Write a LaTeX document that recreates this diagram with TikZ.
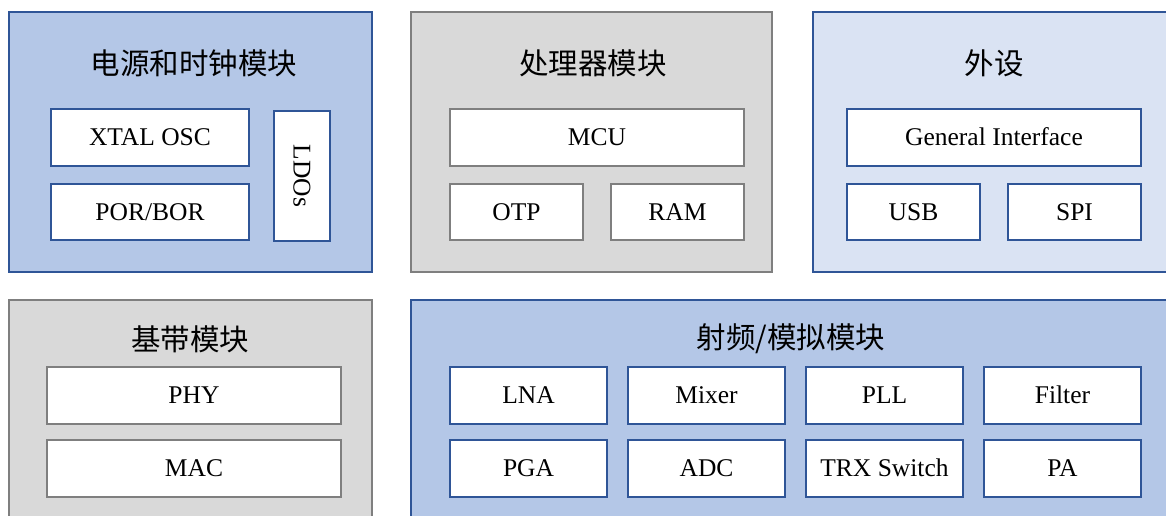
\documentclass[tikz,border=0pt]{standalone}
\usepackage{fontspec}
\setmainfont{Liberation Serif}
\newfontfamily\cjk{Noto Sans CJK SC}
\definecolor{blueFill}{HTML}{B4C7E7}
\definecolor{lightFill}{HTML}{DAE3F3}
\definecolor{grayFill}{HTML}{D9D9D9}
\definecolor{blueLine}{HTML}{2F5597}
\definecolor{grayLine}{HTML}{7F7F7F}
\tikzset{
  x=1pt, y=-1pt,
  block/.style={line width=1.8pt, inner sep=0pt},
  blueblock/.style={block, draw=blueLine, fill=blueFill},
  lightblock/.style={block, draw=blueLine, fill=lightFill},
  grayblock/.style={block, draw=grayLine, fill=grayFill},
  title/.style={font=\cjk\fontsize{29.5}{34}\selectfont, inner sep=0pt},
  cell/.style={draw, fill=white, line width=1.8pt, inner sep=0pt, minimum height=57pt,
    text height=17pt, text depth=1pt, font=\fontsize{25.5}{29}\selectfont},
  bcell/.style={cell, draw=blueLine},
  gcell/.style={cell, draw=grayLine}
}
\begin{document}
\begin{tikzpicture}
\useasboundingbox (0,0) rectangle (1166,515);
\clip (0,0) rectangle (1166,515);
\fill[white] (0,0) rectangle (1166,515);
% outer blocks
\draw[blueblock] (9,12) rectangle (372,272);
\draw[grayblock] (411,12) rectangle (772,272);
\draw[lightblock] (813,12) rectangle (1174,272);
\draw[grayblock] (9,300) rectangle (372,540);
\draw[blueblock] (411,300) rectangle (1174,540);
% titles
\node[title] (t1) at (194,63) {电源和时钟模块};
\node[title] (t2) at (593,63) {处理器模块};
\node[title] (t3) at (994,63) {外设};
\node[title] (t4) at (190,339) {基带模块};
\node[title] (t5) at (791,339) {射频/模拟模块};
% power block
\node[bcell, minimum width=198pt] (xtal) at (150,137.5) {XTAL OSC};
\node[bcell, minimum width=198pt, minimum height=56pt] (por) at (150,212) {POR/BOR};
\node[bcell, minimum width=56pt, minimum height=130pt, text height=, text depth=] (ldo) at (302,176) {\rotatebox{-90}{LDOs}};
% processor block
\node[gcell, minimum width=294pt] (mcu) at (597,137.5) {MCU};
\node[gcell, minimum width=133pt, minimum height=56pt] (otp) at (516.5,212) {OTP};
\node[gcell, minimum width=133pt, minimum height=56pt] (ram) at (677.5,212) {RAM};
% peripheral
\node[bcell, minimum width=294pt] (gif) at (994,137.5) {General Interface};
\node[bcell, minimum width=133pt, minimum height=56pt] (usb) at (913.5,212) {USB};
\node[bcell, minimum width=133pt, minimum height=56pt] (spi) at (1074.5,212) {SPI};
% baseband
\node[gcell, minimum width=294pt] (phy) at (194,395.5) {PHY};
\node[gcell, minimum width=294pt] (mac) at (194,468.5) {MAC};
% RF
\node[bcell, minimum width=157pt] (lna) at (528.5,395.5) {LNA};
\node[bcell, minimum width=157pt] (mix) at (706.5,395.5) {Mixer};
\node[bcell, minimum width=157pt] (pll) at (884.5,395.5) {PLL};
\node[bcell, minimum width=157pt] (flt) at (1062.5,395.5) {Filter};
\node[bcell, minimum width=157pt] (pga) at (528.5,468.5) {PGA};
\node[bcell, minimum width=157pt] (adc) at (706.5,468.5) {ADC};
\node[bcell, minimum width=157pt] (trx) at (884.5,468.5) {TRX Switch};
\node[bcell, minimum width=157pt] (pa) at (1062.5,468.5) {PA};
\end{tikzpicture}
\end{document}
